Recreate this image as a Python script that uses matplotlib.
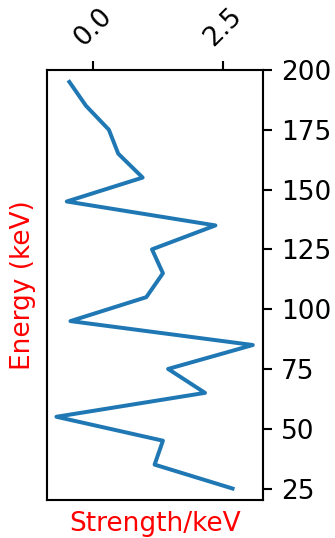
import matplotlib
matplotlib.use('Agg')
import matplotlib.pyplot as plt

# energy levels (keV) and strength values
energy = [25, 35, 45, 55, 65, 75, 85, 95, 105, 115, 125, 135, 145, 155, 165, 175, 185, 195]
strength = [2.69, 1.19, 1.35, -0.70, 2.16, 1.45, 3.08, -0.43, 1.03, 1.35, 1.14, 2.36, -0.50, 0.96, 0.49, 0.31, -0.13, -0.45]

dpi = 190
fig = plt.figure(figsize=(335 / dpi, 538 / dpi), dpi=dpi)
ax = fig.add_axes([0.139, 0.0706, 0.645, 0.7994])

ax.plot(strength, energy, color='tab:blue')

ax.set_ylim(20.2, 200)
ax.set_xticks([0.0, 2.5])
ax.set_yticks([25, 50, 75, 100, 125, 150, 175, 200])

ax.xaxis.tick_top()
ax.yaxis.tick_right()
ax.tick_params(axis='x', labelrotation=45)

ax.set_xlabel('Strength/keV', color='red')
ax.set_ylabel('Energy (keV)', color='red')

fig.savefig('out.png', dpi=dpi)
